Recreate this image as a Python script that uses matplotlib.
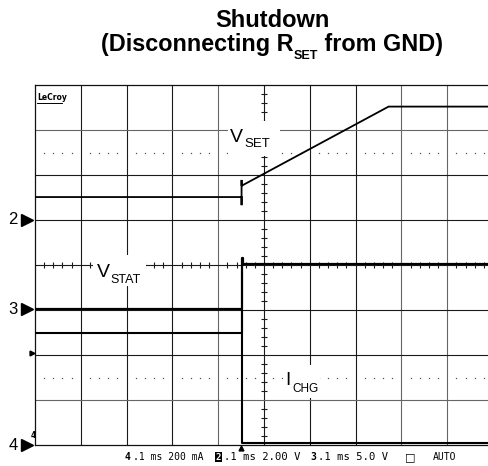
import matplotlib
matplotlib.use('Agg')
import matplotlib.pyplot as plt
from matplotlib.patches import Rectangle
from matplotlib.lines import Line2D
import numpy as np

W, H = 489, 466

# ---------------- data ----------------
# time in ms relative to the trigger (RSET disconnected at t = 0)
t_set = [-0.46, 0.0, 0.0, 0.0, 0.0, 0.321, 0.56]
v_set = [1.02, 1.02, 0.66, 1.78, 1.52, 5.04, 5.04]      # V_SET, volts
t_stat = [-0.46, 0.0, 0.0, 0.003, 0.003, 0.56]
v_stat = [0.0, 0.0, 5.7, 5.7, 5.0, 5.0]                 # V_STAT, volts
t_chg = [-0.46, 0.0, 0.0, 0.0, 0.56]
i_chg = [500, 500, 600, 9, 9]                           # I_CHG, mA

# scope settings
time_div = 0.1          # ms / div
t_left = -0.451         # time at left edge of screen
ch2_div, ch2_off = 2.0, 1.0      # V/div, ground position (div)
ch3_div, ch3_off = 5.0, -0.98
ch4_div, ch4_off = 200.0, -4.0   # mA/div

FONT = 'Liberation Sans'

fig = plt.figure(figsize=(W / 100, H / 100), dpi=100)
fig.patch.set_facecolor('white')

# plot area: left 35px, top 85px, bottom 445px, 45.8 px/div horizontally
L, T, B = 35, 85, 445
DX = 45.8
ax = fig.add_axes([L / W, (H - B) / H, 10 * DX / W, (B - T) / H])
ax.set_xlim(0, 10)
ax.set_ylim(-4, 4)
ax.set_xticks([])
ax.set_yticks([])
for s in ('left', 'top', 'bottom'):
    ax.spines[s].set_color('#111111')
    ax.spines[s].set_linewidth(0.9)
ax.spines['right'].set_visible(False)


def d(px, py):
    return ((px - L) / DX, (265 - py) / 45.0)


BLACK = '#1a1a1a'
GRAY = '#666666'
for k in range(1, 10):
    ax.axvline(k, color=GRAY if k in (4, 8, 9) else BLACK, lw=0.8, zorder=1)
for k in range(-3, 4):
    ax.axhline(k, color=GRAY if k in (3, -3) else BLACK, lw=0.8, zorder=1)

# minor ticks on the centre cross
xs = [v for v in np.arange(0.2, 10.0, 0.2) if abs(v - round(v)) > 0.05]
ax.plot(xs, [0] * len(xs), ls='none', marker='|', ms=5, mew=0.8, color=BLACK, zorder=1)
ys = [v for v in np.arange(-3.8, 4.0, 0.2) if abs(v - round(v)) > 0.05]
ax.plot([5] * len(ys), ys, ls='none', marker='_', ms=5, mew=0.8, color=BLACK, zorder=1)

# dotted rows
dx = [k + f for k in range(10) for f in (0.2, 0.4, 0.6, 0.8)]
for yy in (2.5, -2.5):
    ax.plot(dx, [yy] * len(dx), ls='none', marker='s', ms=0.9, mew=0, color='#555555', zorder=1)

# label boxes (white) that interrupt the graticule
for (x0, y0, x1, y1) in [(228, 121, 280, 156), (93, 255, 146, 286), (283, 365, 320, 398)]:
    a0 = d(x0, y1)
    a1 = d(x1, y0)
    ax.add_patch(Rectangle(a0, a1[0] - a0[0], a1[1] - a0[1], facecolor='white',
                           edgecolor='none', zorder=2))

# traces
tx = lambda t: [(v - t_left) / time_div for v in t]
ax.plot(tx(t_set), [v / ch2_div + ch2_off for v in v_set], color='black', lw=1.3, zorder=4,
        solid_joinstyle='miter')
ax.plot(tx(t_stat), [v / ch3_div + ch3_off for v in v_stat], color='black', lw=1.6, zorder=4)
ax.plot(tx(t_chg), [v / ch4_div + ch4_off for v in i_chg], color='black', lw=1.5, zorder=4)


def ftext(px, py, s, **kw):
    return fig.text(px / W, 1 - py / H, s, **kw)


# trace labels
ftext(230, 142, 'V', fontsize=14, family=FONT, va='baseline', ha='left')
ftext(244, 147, 'SET', fontsize=9.5, family=FONT, va='baseline', ha='left')
ftext(97, 277, 'V', fontsize=14, family=FONT, va='baseline', ha='left')
ftext(110, 283, 'STAT', fontsize=9, family=FONT, va='baseline', ha='left')
ftext(285, 385, 'I', fontsize=13.5, family=FONT, va='baseline', ha='left')
ftext(292, 392, 'CHG', fontsize=8.5, family=FONT, va='baseline', ha='left')

# channel ground markers on the left
blend = matplotlib.transforms.blended_transform_factory(fig.transFigure, ax.transData)
for lab, yv in (('2', ch2_off), ('3', ch3_off), ('4', ch4_off)):
    fig.text(13 / W, yv, lab, transform=blend, fontsize=12, family=FONT, ha='center', va='center')
    fig.add_artist(Line2D([27 / W], [yv], transform=blend, marker='>', ms=9, color='black',
                          ls='none'))
ftext(33, 436, '4', fontsize=5.5, family='DejaVu Sans', weight='bold', ha='center', va='center')
fig.add_artist(Line2D([32.5 / W], [d(0, 353)[1]], transform=blend, marker='>', ms=3.5,
                      color='black', ls='none'))

# LeCroy
ftext(37, 98, 'LeCroy', fontsize=5.5, family='DejaVu Sans', weight='bold', va='center', ha='left')
fig.add_artist(Line2D([37 / W, 62 / W], [1 - 102.5 / H] * 2, color='black', lw=0.7))

# trigger marker
fig.add_artist(Line2D([241.5 / W], [1 - 448 / H], marker='^', ms=3.5, color='black', ls='none'))

# bottom status line
MONO = 'DejaVu Sans Mono'
yb = 457
ftext(125, yb, '4', fontsize=7, family=MONO, weight='bold', va='center')
ftext(133, yb, '.1 ms 200 mA', fontsize=7, family=MONO, va='center')
ftext(216, yb, '2', fontsize=6.5, family=MONO, weight='bold', color='white', va='center',
      bbox=dict(facecolor='black', edgecolor='none', pad=0.6))
ftext(224, yb, '.1 ms 2.00 V', fontsize=7.6, family=MONO, va='center')
ftext(310, yb, '3', fontsize=7, family=MONO, weight='bold', va='center')
ftext(318, yb, '.1 ms 5.0 V', fontsize=7.6, family=MONO, va='center')
ftext(405, yb, '\u25a1', fontsize=8, family='DejaVu Sans', va='center')
ftext(433, yb, 'AUTO', fontsize=7, family=MONO, va='center')

# title
TC = 272
ftext(TC, 27, 'Shutdown', fontsize=17, family=FONT, weight='bold', ha='center', va='baseline')
r = fig.canvas.get_renderer()
p1 = ftext(0, 51, '(Disconnecting R', fontsize=16.8, family=FONT, weight='bold', va='baseline')
p2 = ftext(0, 59, 'SET', fontsize=9, family=FONT, weight='bold', va='baseline')
p3 = ftext(0, 51, ' from GND)', fontsize=16.8, family=FONT, weight='bold', va='baseline')
w1 = p1.get_window_extent(r).width
w2 = p2.get_window_extent(r).width
w3 = p3.get_window_extent(r).width
x0 = TC - (w1 + w2 + w3 + 1) / 2
p1.set_x(x0 / W)
p2.set_x((x0 + w1 + 1) / W)
p3.set_x((x0 + w1 + w2 + 1) / W)

fig.savefig('out.png', dpi=100)
